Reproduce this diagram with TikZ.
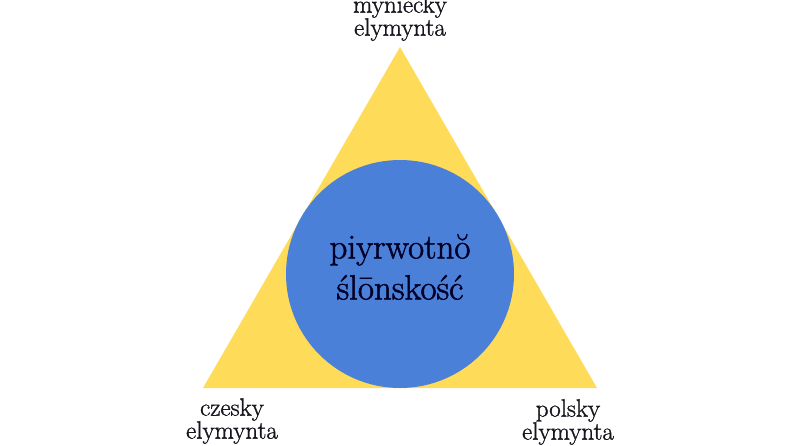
\documentclass[tikz,border=0pt]{standalone}
\usepackage{fontspec}
\setmainfont{Latin Modern Roman}[FakeBold=1.2]
\definecolor{triyellow}{RGB}{255,219,90}
\definecolor{circblue}{RGB}{74,128,216}
\definecolor{inktext}{RGB}{22,22,30}
\begin{document}
\begin{tikzpicture}[x=1pt,y=1pt,
  lbl/.style={align=center,font=\fontsize{25}{23}\selectfont\addfontfeatures{FakeBold=1.2},text=inktext,inner sep=0pt},
  ctr/.style={align=center,font=\fontsize{35}{41}\selectfont\addfontfeatures{FakeBold=1.6},text=black!85!blue,inner sep=0pt}]
\useasboundingbox (0,0) rectangle (800,445);
\coordinate (A) at (400,398);
\coordinate (B) at (203,57);
\coordinate (C) at (597,57);
\fill[triyellow] (A) -- (B) -- (C) -- cycle;
\node[circle,fill=circblue,minimum size=228pt,inner sep=0pt] (core) at (400,171) {};
\node[ctr] (ctext) at (400,178) {piyrwotnŏ\\ślōnskość};
\node[lbl] (top) at (400,427) {myniecky\\elymynta};
\node[lbl] (left) at (232,24) {czesky\\elymynta};
\node[lbl] (right) at (568,23) {polsky\\elymynta};
\end{tikzpicture}
\end{document}
